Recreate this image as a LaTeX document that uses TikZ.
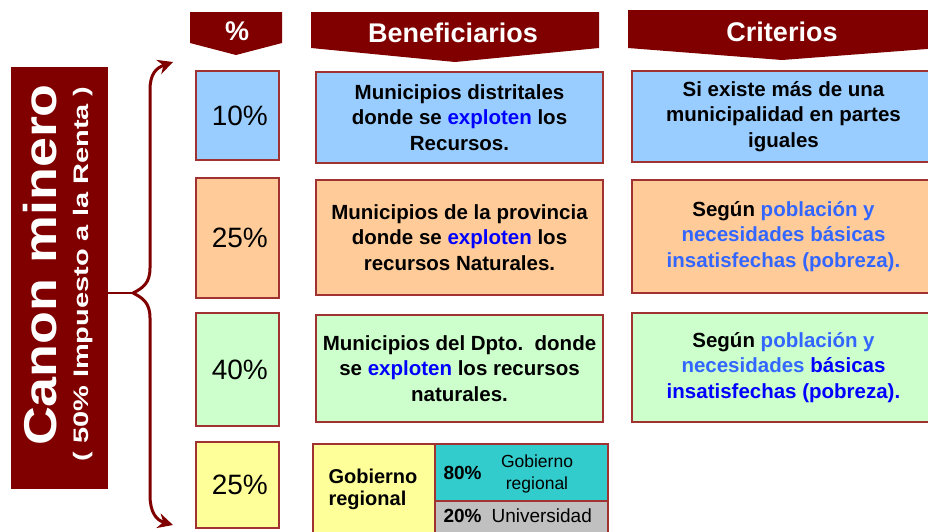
\documentclass[tikz,border=0pt]{standalone}
\usepackage{fontspec}
\setmainfont{Liberation Sans}
\usetikzlibrary{arrows.meta}
\definecolor{dred}{RGB}{128,0,0}
\definecolor{boxred}{RGB}{160,50,50}
\definecolor{cblue}{RGB}{153,204,255}
\definecolor{corange}{RGB}{255,204,153}
\definecolor{cgreen}{RGB}{204,255,204}
\definecolor{cyellow}{RGB}{255,255,153}
\definecolor{ccyan}{RGB}{51,204,204}
\definecolor{cgray}{RGB}{192,192,192}
\definecolor{lblue}{RGB}{51,102,255}
\definecolor{dblue}{RGB}{0,0,255}
\tikzset{
  cell/.style={draw=boxred, line width=1.2pt, inner sep=0pt, align=center,
    font=\bfseries\fontsize{20.5}{25.5}\selectfont},
  pct/.style={cell, font=\fontsize{28}{30}\selectfont, minimum width=83pt},
  head/.style={fill=dred, draw=none},
  headtext/.style={text=white, font=\bfseries\fontsize{27}{28}\selectfont},
  brace/.style={draw=dred, line width=3pt},
}
\newcommand{\xp}{\textcolor{dblue}{exploten}}
\begin{document}
\begin{tikzpicture}[x=1pt,y=-1pt]
\useasboundingbox (0,0) rectangle (928,531);
% headers
\fill[head] (190,12) -- (282,12) -- (282,43) -- (236,55) -- (190,43) -- cycle;
\node[headtext] (hpct) at (237,31) {\%};
\fill[head] (311,12) -- (599,12) -- (599,48) -- (455,62) -- (311,48) -- cycle;
\node[headtext] (hben) at (453,33) {Beneficiarios};
\fill[head] (628,10) -- (940,10) -- (940,48) -- (782,60) -- (628,48) -- cycle;
\node[headtext] (hcrit) at (782,32) {Criterios};
% title
\node[fill=dred, minimum width=97pt, minimum height=422pt, inner sep=0pt] (title) at (59.5,278) {};
\node[rotate=90, text=white, font=\bfseries\fontsize{46}{46}\selectfont] (tmain) at (40,265) {\scalebox{1.17}[1]{Canon minero}};
\node[rotate=90, text=white, font=\bfseries\fontsize{21}{22}\selectfont] (tsub) at (83,274) {\scalebox{1.38}[1]{( 50\% Impuesto a la Renta )}};
% brace
\coordinate (btip) at (133,293);
\coordinate (btop) at (173,62);
\coordinate (bbot) at (173,525);
\draw[draw=dred, line width=1.2pt] (title.east |- btip) -- (btip);
\draw[brace, -{Stealth[length=15pt,width=15pt]}] (btip) .. controls (143,288) and (150,283) .. (150,268) -- (150,90) .. controls (150,74) and (156,68) .. (btop);
\draw[brace, -{Stealth[length=15pt,width=15pt]}] (btip) .. controls (143,298) and (150,303) .. (150,318) -- (150,495) .. controls (150,512) and (156,520) .. (bbot);
% percent column
\node[pct, fill=cblue, minimum height=89pt] (p1) at (237.5,115.5) {\,10\%};
\node[pct, fill=corange, minimum height=120pt] (p2) at (237.5,238) {\,25\%};
\node[pct, fill=cgreen, minimum height=113pt] (p3) at (237.5,369.5) {\,40\%};
\node[pct, fill=cyellow, minimum height=86pt] (p4) at (237.5,485) {\,25\%};
% beneficiaries
\node[cell, fill=cblue, minimum width=287pt, minimum height=91pt] (b1) at (459.5,117.5)
  {Municipios distritales\\donde se \xp{} los\\Recursos.};
\node[cell, fill=corange, minimum width=287pt, minimum height=115pt] (b2) at (459.5,237.5)
  {Municipios de la provincia\\donde se \xp{} los\\recursos Naturales.};
\node[cell, fill=cgreen, minimum width=287pt, minimum height=107pt] (b3) at (459.5,368.5)
  {Municipios del Dpto.\ \ donde\\se \xp{} los recursos\\naturales.};
% criteria
\node[cell, fill=cblue, minimum width=303pt, minimum height=91pt] (c1) at (783.5,116.5)
  {Si existe más de una\\municipalidad en partes\\iguales};
\node[cell, fill=corange, minimum width=303pt, minimum height=113pt] (c2) at (783.5,236.5)
  {Según \textcolor{lblue}{población y}\\\textcolor{lblue}{necesidades básicas}\\\textcolor{lblue}{insatisfechas (pobreza).}};
\node[cell, fill=cgreen, minimum width=303pt, minimum height=109pt] (c3) at (783.5,367.5)
  {Según \textcolor{lblue}{población y}\\\textcolor{lblue}{necesidades} \textcolor{dblue}{básicas}\\\textcolor{dblue}{insatisfechas (pobreza).}};
% bottom box
\node[cell, fill=cyellow, minimum width=122pt, minimum height=96pt] (g1) at (374,492) {};
\node[font=\bfseries\fontsize{20}{22}\selectfont, align=left, anchor=west] (g1t) at (325,489) {Gobierno\\regional};
\node[cell, fill=ccyan, minimum width=173pt, minimum height=57pt] (g2) at (521.5,472.5) {};
\node[cell, fill=cgray, minimum width=173pt, minimum height=39pt] (g3) at (521.5,520.5) {};
\node[font=\bfseries\fontsize{19}{20}\selectfont, anchor=west] (g2a) at (440,473) {80\%};
\node[font=\fontsize{17.5}{22}\selectfont, align=center] (g2b) at (537,474) {Gobierno\\regional};
\node[font=\bfseries\fontsize{19}{20}\selectfont, anchor=west] (g3a) at (440,516) {20\%};
\node[font=\fontsize{19}{20}\selectfont, anchor=west] (g3b) at (488,516) {Universidad};
\draw[draw=boxred, line width=1.8pt] (313,540) -- (313,444) -- (608,444) -- (608,540);
\end{tikzpicture}
\end{document}
